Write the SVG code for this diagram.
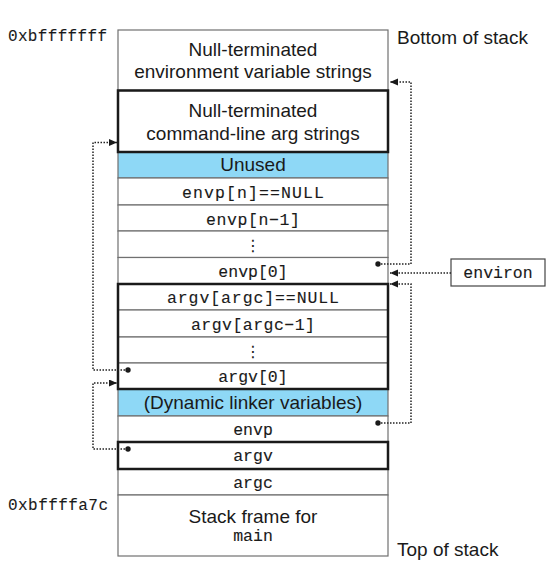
<svg xmlns="http://www.w3.org/2000/svg" width="559" height="575" viewBox="0 0 559 575">
<style>
.cell{fill:#fff;stroke:#707070;stroke-width:1.2}
.blue{fill:#8ed8f6}
.thick{fill:none;stroke:#1a1a1a;stroke-width:2.5}
.sans{font-family:"Liberation Sans",Arial,sans-serif;font-size:19px;fill:#1a1a1a;text-anchor:middle}
.lab{font-family:"Liberation Sans",Arial,sans-serif;font-size:19px;fill:#1a1a1a}
.mono{font-family:"Liberation Mono","DejaVu Sans Mono",monospace;font-size:16.5px;fill:#1a1a1a;stroke:#1a1a1a;stroke-width:0.12;text-anchor:middle}
.addr{font-family:"Liberation Mono","DejaVu Sans Mono",monospace;font-size:16px;fill:#1a1a1a;stroke:#1a1a1a;stroke-width:0.1}
.vdots{font-family:"DejaVu Sans",sans-serif;font-size:16px;fill:#1a1a1a;text-anchor:middle}
.conn{fill:none;stroke:#222;stroke-width:1.5;stroke-dasharray:1.5 1.5}
.dot{fill:#1a1a1a}
</style>
<defs>
<marker id="arr" markerUnits="userSpaceOnUse" markerWidth="9" markerHeight="8" refX="8" refY="3.5" orient="auto">
<path d="M0,0 L8,3.5 L0,7 Z" fill="#1a1a1a"/>
</marker>
</defs>

<text class="addr" x="8" y="41" textLength="99" lengthAdjust="spacing">0xbfffffff</text>
<text class="addr" x="8" y="510" textLength="100" lengthAdjust="spacing">0xbffffa7c</text>
<text class="lab" x="397" y="44">Bottom of stack</text>
<text class="lab" x="397" y="556">Top of stack</text>

<g id="env-strings">
<rect class="cell" x="118" y="30" width="270" height="60.5"/>
<text class="sans" x="253" y="56">Null-terminated</text>
<text class="sans" x="253" y="78">environment variable strings</text>
</g>
<g id="arg-strings">
<rect class="cell" x="118" y="90.5" width="270" height="61.5"/>
<text class="sans" x="253" y="117">Null-terminated</text>
<text class="sans" x="253" y="139.5">command-line arg strings</text>
</g>
<g id="unused">
<rect class="cell blue" x="118" y="152" width="270" height="26"/>
<text class="sans" x="253" y="171">Unused</text>
</g>
<g id="envp-n-null">
<rect class="cell" x="118" y="178" width="270" height="27"/>
<text class="mono" x="253" y="198" textLength="142" lengthAdjust="spacing">envp[n]==NULL</text>
</g>
<g id="envp-n-1">
<rect class="cell" x="118" y="205" width="270" height="26"/>
<text class="mono" x="253" y="225" textLength="94" lengthAdjust="spacing">envp[n−1]</text>
</g>
<g id="envp-dots">
<rect class="cell" x="118" y="231" width="270" height="26.5"/>
<text class="vdots" x="253" y="251">⋮</text>
</g>
<g id="envp-0">
<rect class="cell" x="118" y="257.5" width="270" height="26.5"/>
<text class="mono" x="253" y="277">envp[0]</text>
</g>
<g id="argv-argc-null">
<rect class="cell" x="118" y="284" width="270" height="26"/>
<text class="mono" x="253" y="303" textLength="172" lengthAdjust="spacing">argv[argc]==NULL</text>
</g>
<g id="argv-argc-1">
<rect class="cell" x="118" y="310" width="270" height="27"/>
<text class="mono" x="253" y="330" textLength="124" lengthAdjust="spacing">argv[argc−1]</text>
</g>
<g id="argv-dots">
<rect class="cell" x="118" y="337" width="270" height="26"/>
<text class="vdots" x="253" y="357">⋮</text>
</g>
<g id="argv-0">
<rect class="cell" x="118" y="363" width="270" height="26"/>
<text class="mono" x="253" y="382">argv[0]</text>
</g>
<g id="dyn-linker">
<rect class="cell blue" x="118" y="389" width="270" height="27"/>
<text class="sans" x="253" y="409">(Dynamic linker variables)</text>
</g>
<g id="envp">
<rect class="cell" x="118" y="416" width="270" height="26"/>
<text class="mono" x="253" y="435">envp</text>
</g>
<g id="argv">
<rect class="cell" x="118" y="442" width="270" height="27"/>
<text class="mono" x="253" y="461">argv</text>
</g>
<g id="argc">
<rect class="cell" x="118" y="469" width="270" height="26"/>
<text class="mono" x="253" y="488">argc</text>
</g>
<g id="main-frame">
<rect class="cell" x="118" y="495" width="270" height="61"/>
<text class="sans" x="253" y="523">Stack frame for</text>
<text class="mono" x="253" y="541">main</text>
</g>

<g id="thick-borders">
<rect class="thick" x="118" y="90.5" width="270" height="61.5"/>
<rect class="thick" x="118" y="284" width="270" height="105"/>
<rect class="thick" x="118" y="442" width="270" height="27"/>
</g>

<g id="environ">
<rect x="451" y="259" width="94" height="27" fill="#fff" stroke="#444" stroke-width="1.2"/>
<text class="mono" x="498" y="278">environ</text>
</g>

<g id="connectors">
<path class="conn" d="M378,264 H411 V82 H390" marker-end="url(#arr)"/>
<path class="conn" d="M451,273 H390" marker-end="url(#arr)"/>
<path class="conn" d="M378,423 H411 V284 H390" marker-end="url(#arr)"/>
<path class="conn" d="M128,370 H93 V142.5 H117" marker-end="url(#arr)"/>
<path class="conn" d="M128,449 H93 V383 H117" marker-end="url(#arr)"/>
<circle class="dot" cx="378" cy="264" r="2.7"/>
<circle class="dot" cx="378" cy="423" r="2.7"/>
<circle class="dot" cx="128" cy="370" r="2.7"/>
<circle class="dot" cx="128" cy="449" r="2.7"/>
</g>
</svg>
